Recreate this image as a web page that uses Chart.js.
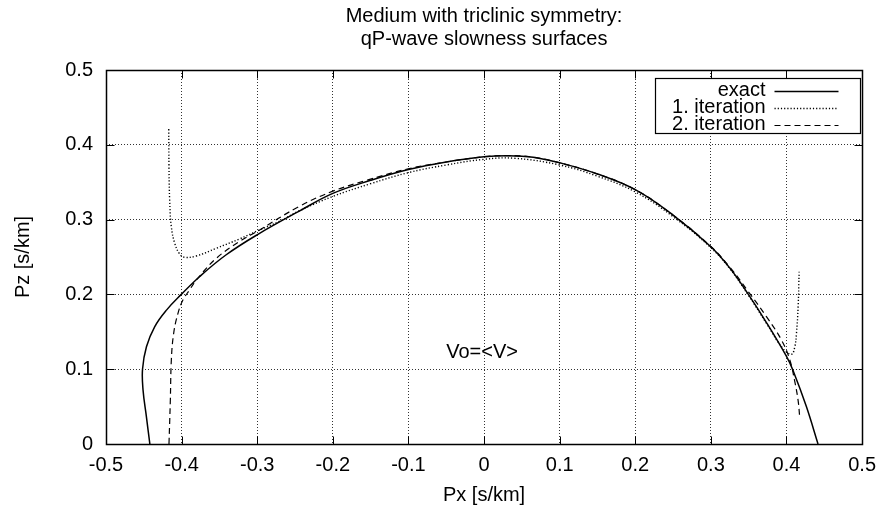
<!DOCTYPE html>
<html>
<head>
<meta charset="utf-8">
<script src="https://cdn.jsdelivr.net/npm/chart.js@4/dist/chart.umd.min.js"></script>
<style>
  html, body { margin: 0; padding: 0; background: #fff; }
</style>
</head>
<body>
<canvas id="slownessChart" width="885" height="509"></canvas>
<script>
// qP-wave slowness curves (Px, Pz in s/km)
const exactPx = [-0.442, -0.4465, -0.451, -0.4517, -0.4465, -0.4355, -0.42, -0.4004, -0.376, -0.341, -0.2996, -0.245, -0.2, -0.15, -0.1, -0.05, 0, 0.032, 0.065, 0.1, 0.15, 0.2, 0.25, 0.3, 0.3254, 0.3496, 0.3737, 0.4, 0.4088, 0.4263, 0.4417];
const exactPz = [0, 0.036, 0.072, 0.1, 0.13, 0.157, 0.179, 0.2, 0.224, 0.253, 0.28, 0.311, 0.335, 0.3525, 0.367, 0.377, 0.384, 0.3855, 0.3835, 0.376, 0.361, 0.34, 0.306, 0.2637, 0.2348, 0.2, 0.162, 0.117, 0.098, 0.05, 0];

const iter1Px = [-0.417, -0.4167, -0.4158, -0.4136, -0.409, -0.4026, -0.396, -0.3807, -0.3544, -0.3237, -0.2996, -0.27, -0.245, -0.2, -0.15, -0.1, -0.05, 0, 0.04, 0.1, 0.15, 0.2, 0.25, 0.3, 0.3254, 0.3496, 0.3737, 0.395, 0.4066, 0.411, 0.4132, 0.4154, 0.4167];
const iter1Pz = [0.421, 0.371, 0.326, 0.2905, 0.268, 0.254, 0.2496, 0.2513, 0.2616, 0.274, 0.285, 0.298, 0.3115, 0.331, 0.348, 0.3628, 0.373, 0.3806, 0.382, 0.373, 0.358, 0.337, 0.304, 0.2625, 0.234, 0.199, 0.161, 0.128, 0.12, 0.13, 0.148, 0.1836, 0.2304];

const iter2Px = [-0.4167, -0.4149, -0.4136, -0.4105, -0.4048, -0.3983, -0.3895, -0.3807, -0.3544, -0.3237, -0.2996, -0.245, -0.2, -0.157, -0.1, -0.05, 0, 0.032, 0.065, 0.1, 0.15, 0.2, 0.25, 0.3, 0.3254, 0.3496, 0.3737, 0.3934, 0.4044, 0.411, 0.4154, 0.4175];
const iter2Pz = [0, 0.0588, 0.112, 0.148, 0.1747, 0.1925, 0.2059, 0.219, 0.248, 0.2705, 0.2845, 0.3173, 0.338, 0.352, 0.368, 0.377, 0.384, 0.3855, 0.3835, 0.376, 0.361, 0.34, 0.306, 0.264, 0.236, 0.2036, 0.17, 0.139, 0.1123, 0.0833, 0.0579, 0.0356];

const seriesNames = ['exact', '1. iteration', '2. iteration'];
const xTicks = [-0.5, -0.4, -0.3, -0.2, -0.1, 0, 0.1, 0.2, 0.3, 0.4, 0.5];
const yTicks = [0, 0.1, 0.2, 0.3, 0.4, 0.5];
const titleLines = ['Medium with triclinic symmetry:', 'qP-wave slowness surfaces'];
const noteText = 'Vo=<V>';
const notePos = [-0.05, 0.123];

const fontFamily = "'Liberation Sans', Arial, sans-serif";
Chart.defaults.font.family = fontFamily;
Chart.defaults.color = '#000';

function pts(xs, ys) {
  return xs.map((x, i) => ({ x: x, y: ys[i] }));
}
function fmt(v) {
  return v === 0 ? '0' : v.toFixed(1);
}

// gnuplot look: frame with inward ticks on all sides, label, opaque key
const gnuplotFrame = {
  id: 'gnuplotFrame',
  afterDatasetsDraw(chart) {
    const { ctx, chartArea: a, scales: { x, y } } = chart;
    const L = Math.round(a.left) + 0.5, R = Math.round(a.right) + 0.5;
    const T = Math.round(a.top) + 0.5, B = Math.round(a.bottom) + 0.5;
    ctx.save();
    ctx.strokeStyle = '#000';
    ctx.lineWidth = 1;
    ctx.beginPath();
    xTicks.forEach(v => {
      const p = Math.round(x.getPixelForValue(v)) + 0.5;
      ctx.moveTo(p, B); ctx.lineTo(p, B - 8);
      ctx.moveTo(p, T); ctx.lineTo(p, T + 8);
    });
    yTicks.forEach(v => {
      const p = Math.round(y.getPixelForValue(v)) + 0.5;
      ctx.moveTo(L, p); ctx.lineTo(L + 8, p);
      ctx.moveTo(R, p); ctx.lineTo(R - 8, p);
    });
    ctx.stroke();
    ctx.lineWidth = 1.5;
    ctx.strokeRect(L, T, R - L, B - T);

    ctx.fillStyle = '#000';
    ctx.font = '20px ' + fontFamily;
    ctx.textBaseline = 'middle';
    ctx.textAlign = 'left';
    ctx.fillText(noteText, x.getPixelForValue(notePos[0]), y.getPixelForValue(notePos[1]));

    // key box
    const kr = R - 2, kt = T + 8, kw = 205, kh = 55;
    ctx.fillStyle = '#fff';
    ctx.fillRect(kr - kw, kt, kw, kh);
    ctx.lineWidth = 1.2;
    ctx.strokeRect(kr - kw, kt, kw, kh);
    ctx.textAlign = 'right';
    chart.data.datasets.forEach((ds, i) => {
      const ry = kt + 12 + i * 17;
      ctx.fillStyle = '#000';
      ctx.fillText(ds.label, kr - 95, ry);
      ctx.beginPath();
      ctx.setLineDash(ds.borderDash || []);
      ctx.lineWidth = ds.borderWidth;
      ctx.moveTo(kr - 86, Math.round(ry) + 0.5);
      ctx.lineTo(kr - 22, Math.round(ry) + 0.5);
      ctx.stroke();
      ctx.setLineDash([]);
    });
    ctx.restore();
  }
};

const ctx = document.getElementById('slownessChart').getContext('2d');
new Chart(ctx, {
  type: 'scatter',
  data: {
    datasets: [{
      label: seriesNames[0],
      data: pts(exactPx, exactPz),
      showLine: true,
      borderColor: '#000',
      borderWidth: 1.5,
      pointRadius: 0,
      tension: 0.4
    }, {
      label: seriesNames[1],
      data: pts(iter1Px, iter1Pz),
      showLine: true,
      borderColor: '#000',
      borderWidth: 1.4,
      borderDash: [1.2, 2],
      pointRadius: 0,
      tension: 0.4
    }, {
      label: seriesNames[2],
      data: pts(iter2Px, iter2Pz),
      showLine: true,
      borderColor: '#000',
      borderWidth: 1.2,
      borderDash: [6, 4],
      pointRadius: 0,
      tension: 0.4
    }]
  },
  options: {
    responsive: false,
    animation: false,
    layout: { padding: { top: 5, right: 19, bottom: 0, left: 0 } },
    plugins: {
      legend: { display: false },
      tooltip: { enabled: false },
      title: {
        display: true,
        fullSize: false,
        text: titleLines,
        color: '#000',
        font: { size: 20, weight: 'normal', lineHeight: 1.15 },
        padding: { top: 0, bottom: 19 }
      }
    },
    scales: {
      x: {
        type: 'linear',
        position: 'bottom',
        min: -0.5,
        max: 0.5,
        afterBuildTicks: s => { s.ticks = xTicks.map(v => ({ value: v })); },
        afterFit: s => { s.height = 65; },
        ticks: { font: { size: 20 }, color: '#000', padding: 9, maxRotation: 0, autoSkip: false, callback: v => fmt(v) },
        grid: { color: '#333', lineWidth: 1, drawTicks: false },
        border: { display: false, dash: [1, 2] },
        title: { display: true, text: 'Px [s/km]', font: { size: 20 }, color: '#000', padding: { top: 0, bottom: 2 } }
      },
      y: {
        type: 'linear',
        position: 'left',
        min: 0,
        max: 0.5,
        afterBuildTicks: s => { s.ticks = yTicks.map(v => ({ value: v })); },
        afterFit: s => { s.width = 106; },
        ticks: { font: { size: 20 }, color: '#000', padding: 13, autoSkip: false, callback: v => fmt(v) },
        grid: { color: '#333', lineWidth: 1, drawTicks: false },
        border: { display: false, dash: [1, 2] },
        title: { display: true, text: 'Pz [s/km]', font: { size: 20 }, color: '#000', padding: { top: 11 } }
      }
    }
  },
  plugins: [gnuplotFrame]
});
</script>
</body>
</html>
